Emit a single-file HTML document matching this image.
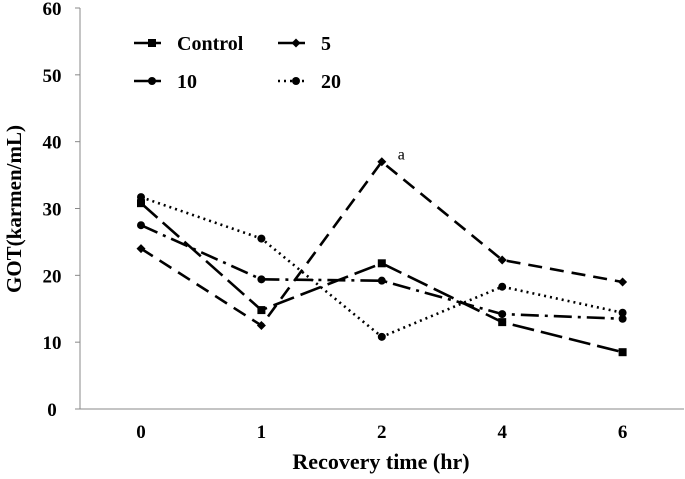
<!DOCTYPE html>
<html><head><meta charset="utf-8"><style>
body{margin:0;background:#fff}
svg text{font-family:"Liberation Serif",serif;font-weight:bold;fill:#000}
</style></head><body>
<svg id="chart" width="685" height="474" viewBox="0 0 685 474" xmlns="http://www.w3.org/2000/svg"></svg>
<script>
const categories=["0","1","2","4","6"];
const yTicks=[0,10,20,30,40,50,60];
const controlVals=[30.8,14.8,21.8,13.0,8.5];
const fiveVals=[24.0,12.5,37.0,22.3,19.0];
const tenVals=[27.5,19.4,19.2,14.2,13.5];
const twentyVals=[31.7,25.5,10.8,18.3,14.4];
const svg=document.getElementById('chart');
const NS='http://www.w3.org/2000/svg';
const x0=141,dx=120.4,y0=409,yTop=8;
function xs(i){return x0+i*dx;}
function ys(v){return y0-(v/60)*(y0-yTop);}
function mk(tag,attrs,parent){const e=document.createElementNS(NS,tag);for(const k in attrs)e.setAttribute(k,attrs[k]);(parent||svg).appendChild(e);return e;}
let a=mk('line',{x1:80,y1:yTop,x2:80,y2:y0,stroke:'#888','stroke-width':1});


a=mk('line',{x1:80,y1:y0,x2:684,y2:y0,stroke:'#888','stroke-width':1});


yTicks.forEach(t=>{
 const l=mk('line',{x1:75,y1:ys(t),x2:80,y2:ys(t),stroke:'#888'});
 
 
 const tx=mk('text',{x:52,y:ys(t)+7,'text-anchor':'middle','font-size':19});
 tx.textContent=t;
 
 
});
categories.forEach((c,i)=>{
 const tx=mk('text',{x:xs(i),y:438,'text-anchor':'middle','font-size':19});
 tx.textContent=c;
 
 
});
let t=mk('text',{x:381,y:469,'text-anchor':'middle','font-size':22});
t.textContent='Recovery time (hr)';


t=mk('text',{x:0,y:0,'text-anchor':'middle','font-size':21,transform:'translate(21,209) rotate(-90)'});
t.textContent='GOT(karmen/mL)';


const series=[
 {name:'control',vals:controlVals,dash:'22,7',marker:'square'},
 {name:'5',vals:fiveVals,dash:'14,8',marker:'diamond'},
 {name:'10',vals:tenVals,dash:'18,6,3,6',marker:'circle'},
 {name:'20',vals:twentyVals,dash:'2,4',marker:'circle'}];
function marker(type,x,y,g){
 if(type==='square')return mk('rect',{x:x-4,y:y-4,width:8,height:8,fill:'#000'},g);
 if(type==='diamond')return mk('path',{d:`M${x} ${y-4.5}L${x+4.5} ${y}L${x} ${y+4.5}L${x-4.5} ${y}Z`,fill:'#000'},g);
 return mk('circle',{cx:x,cy:y,r:4,fill:'#000'},g);
}
series.forEach(s=>{
 const g=mk('g',{});
 
 
 const p=mk('polyline',{points:s.vals.map((v,i)=>xs(i)+','+ys(v)).join(' '),fill:'none',stroke:'#000','stroke-width':2.6,'stroke-dasharray':s.dash},g);
 
 
 s.vals.forEach((v,i)=>{
  const m=marker(s.marker,xs(i),ys(v),g);
  
  
 });
});
t=mk('text',{x:xs(2)+16,y:ys(37)-2,'font-size':16});
t.style.fontWeight='normal';
t.textContent='a';


const leg=[{s:0,x:134,y:43,label:'Control'},{s:1,x:278,y:43,label:'5'},{s:2,x:134,y:81,label:'10'},{s:3,x:278,y:81,label:'20'}];
leg.forEach(L=>{
 const s=series[L.s];
 const g=mk('g',{});
 
 
 mk('line',{x1:L.x,y1:L.y,x2:L.x+27,y2:L.y,stroke:'#000','stroke-width':2.6,'stroke-dasharray':L.s===3?'2,4':'none'},g);
 marker(s.marker,L.x+18,L.y,g);
 const tx=mk('text',{x:L.x+43,y:L.y+7,'font-size':20},g);
 tx.textContent=L.label;
});
</script>
</body></html>
